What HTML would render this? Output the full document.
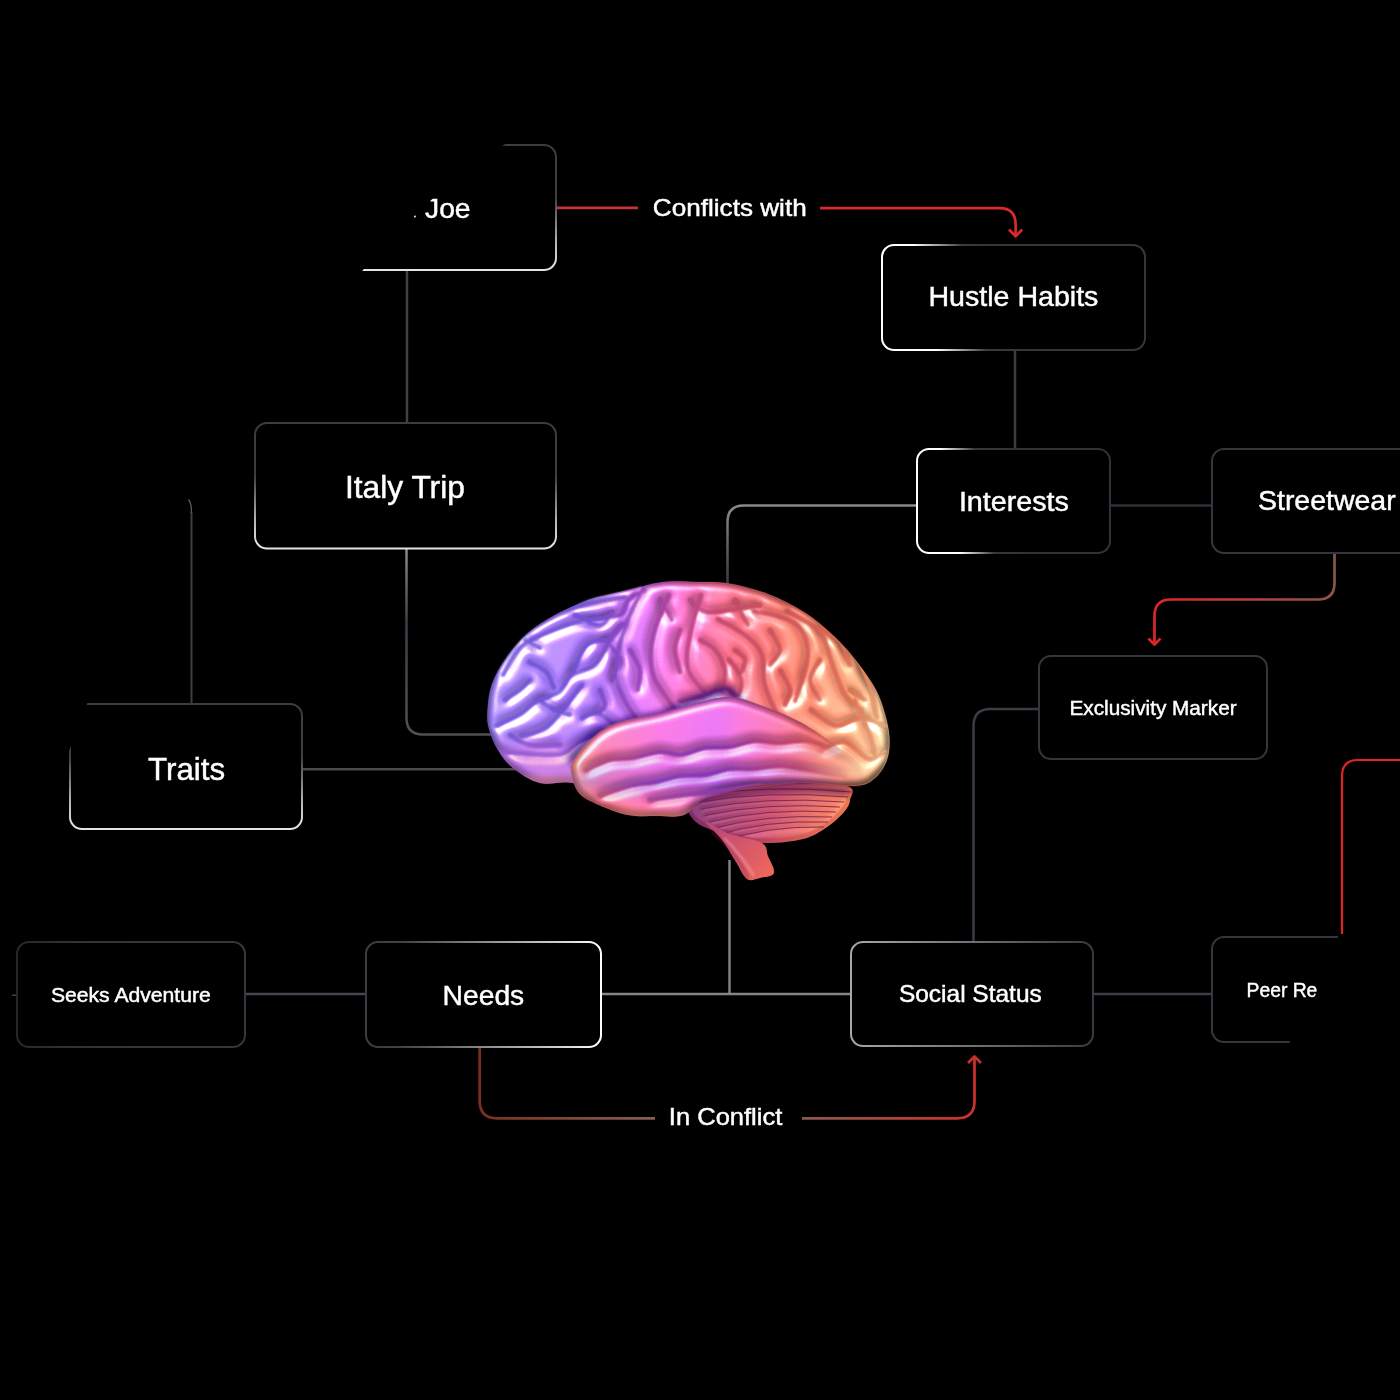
<!DOCTYPE html>
<html><head><meta charset="utf-8">
<style>
html,body{margin:0;padding:0;background:#000;width:1400px;height:1400px;overflow:hidden}
svg{display:block}
text{font-family:"Liberation Sans", sans-serif;fill:#fff;stroke:#fff;stroke-width:0.45px}
svg{will-change:transform}
</style></head>
<body>
<svg width="1400" height="1400" viewBox="0 0 1400 1400">
<defs>
  <linearGradient id="gV" x1="0" y1="0" x2="0" y2="1">
    <stop offset="0" stop-color="#3a3d44"/><stop offset="0.42" stop-color="#3a3d44"/><stop offset="0.78" stop-color="#b4b5b8"/><stop offset="0.95" stop-color="#dedede"/><stop offset="1" stop-color="#e4e4e4"/>
  </linearGradient>
  <linearGradient id="gHH" gradientUnits="userSpaceOnUse" x1="900" y1="300" x2="1005" y2="276">
    <stop offset="0" stop-color="#ffffff"/><stop offset="0.23" stop-color="#ffffff"/><stop offset="0.45" stop-color="#a0a2a6"/><stop offset="0.68" stop-color="#383b42"/><stop offset="1" stop-color="#33363d"/>
  </linearGradient>
  <linearGradient id="gINT" gradientUnits="userSpaceOnUse" x1="917" y1="505" x2="1021" y2="485">
    <stop offset="0" stop-color="#ffffff"/><stop offset="0.31" stop-color="#ffffff"/><stop offset="0.47" stop-color="#a0a2a6"/><stop offset="0.63" stop-color="#35383f"/><stop offset="1" stop-color="#2f3239"/>
  </linearGradient>
  <linearGradient id="gNeeds" x1="0" y1="0" x2="1" y2="0">
    <stop offset="0" stop-color="#3a3d44"/><stop offset="0.15" stop-color="#3e4148"/><stop offset="0.5" stop-color="#8a8b8e"/><stop offset="0.82" stop-color="#d0d0d0"/><stop offset="1" stop-color="#ffffff"/>
  </linearGradient>
  <linearGradient id="gSeeks" x1="0" y1="0" x2="1" y2="0"><stop offset="0" stop-color="#24272c"/><stop offset="0.25" stop-color="#30333a"/><stop offset="1" stop-color="#34373e"/></linearGradient>
  <linearGradient id="gSoc" x1="0" y1="0" x2="1" y2="0">
    <stop offset="0" stop-color="#a6a8ac"/><stop offset="0.5" stop-color="#6e7176"/><stop offset="1" stop-color="#373a41"/>
  </linearGradient>
  <linearGradient id="rJoe" gradientUnits="userSpaceOnUse" x1="556" y1="0" x2="1016" y2="0">
    <stop offset="0" stop-color="#c43434"/><stop offset="1" stop-color="#d82a2a"/>
  </linearGradient>
  <linearGradient id="rStreet" gradientUnits="userSpaceOnUse" x1="1334" y1="560" x2="1160" y2="620">
    <stop offset="0" stop-color="#84584a"/><stop offset="0.5" stop-color="#b8423a"/><stop offset="1" stop-color="#dc2626"/>
  </linearGradient>
  <linearGradient id="rNeeds" gradientUnits="userSpaceOnUse" x1="480" y1="0" x2="975" y2="0">
    <stop offset="0" stop-color="#7a3020"/><stop offset="0.35" stop-color="#856050"/><stop offset="0.66" stop-color="#8a5a4c"/><stop offset="1" stop-color="#d0302c"/>
  </linearGradient>
  <linearGradient id="gInt2" gradientUnits="userSpaceOnUse" x1="0" y1="505" x2="0" y2="585">
    <stop offset="0" stop-color="#8a8a8a"/><stop offset="1" stop-color="#353a40"/>
  </linearGradient>
  <linearGradient id="gItaly2" gradientUnits="userSpaceOnUse" x1="0" y1="548" x2="0" y2="735">
    <stop offset="0" stop-color="#8a8a8a"/><stop offset="0.4" stop-color="#3a4048"/><stop offset="1" stop-color="#505050"/>
  </linearGradient>
  <linearGradient id="bFill" gradientUnits="userSpaceOnUse" x1="490" y1="0" x2="890" y2="0">
    <stop offset="0" stop-color="#a084f6"/><stop offset="0.25" stop-color="#a070f2"/><stop offset="0.38" stop-color="#c468dc"/><stop offset="0.5" stop-color="#ec6ab0"/><stop offset="0.6" stop-color="#f46e88"/><stop offset="0.75" stop-color="#f67c6c"/><stop offset="0.9" stop-color="#f9a078"/><stop offset="1" stop-color="#ffdcaa"/>
  </linearGradient>
  <linearGradient id="bTemp" gradientUnits="userSpaceOnUse" x1="570" y1="0" x2="865" y2="0">
    <stop offset="0" stop-color="#f8a070"/><stop offset="0.1" stop-color="#f07898"/><stop offset="0.3" stop-color="#d868c8"/><stop offset="0.5" stop-color="#c864d8"/><stop offset="0.7" stop-color="#ec6a98"/><stop offset="0.85" stop-color="#f47468"/><stop offset="1" stop-color="#f68a68"/>
  </linearGradient>
  <linearGradient id="bCb" gradientUnits="userSpaceOnUse" x1="700" y1="785" x2="840" y2="840">
    <stop offset="0" stop-color="#7a2c6a"/><stop offset="0.5" stop-color="#b84060"/><stop offset="1" stop-color="#f07a50"/>
  </linearGradient>
  <linearGradient id="bStem" gradientUnits="userSpaceOnUse" x1="715" y1="830" x2="775" y2="875">
    <stop offset="0" stop-color="#c04878"/><stop offset="1" stop-color="#f06a58"/>
  </linearGradient>
  <clipPath id="cJoe"><circle cx="840" cy="666" r="620"/></clipPath>
  <clipPath id="cTraits"><polygon points="92.4,690 320,690 320,850 31,850"/></clipPath>
  <clipPath id="cPeer"><polygon points="1150,920 1346,920 1338,937 1318,990 1290,1042 1282,1060 1150,1060"/></clipPath>
  <linearGradient id="mJoe" gradientUnits="userSpaceOnUse" x1="380" y1="250" x2="470" y2="170">
    <stop offset="0" stop-color="#000" stop-opacity="0"/><stop offset="0.5" stop-color="#000" stop-opacity="0"/><stop offset="0.7" stop-color="#000" stop-opacity="1"/>
  </linearGradient>
  <clipPath id="cCerebrum"><path d="M487.5,711.0 C488.0,703.5 488.8,693.0 492.0,684.0 C495.2,675.0 501.0,665.5 507.0,657.0 C513.0,648.5 520.0,640.0 528.0,633.0 C536.0,626.0 545.0,620.5 555.0,615.0 C565.0,609.5 576.5,604.0 588.0,600.0 C599.5,596.0 611.5,594.0 624.0,591.0 C636.5,588.0 651.0,583.5 663.0,582.0 C675.0,580.5 685.0,581.8 696.0,582.0 C707.0,582.2 717.0,581.5 729.0,583.5 C741.0,585.5 755.5,589.2 768.0,594.0 C780.5,598.8 793.0,605.0 804.0,612.0 C815.0,619.0 825.0,627.5 834.0,636.0 C843.0,644.5 851.0,654.0 858.0,663.0 C865.0,672.0 871.5,681.5 876.0,690.0 C880.5,698.5 882.8,706.0 885.0,714.0 C887.2,722.0 889.2,730.3 889.5,738.0 C889.8,745.7 889.4,753.3 887.0,760.0 C884.6,766.7 880.3,773.7 875.0,778.0 C869.7,782.3 867.5,785.2 855.0,786.0 C842.5,786.8 819.2,782.3 800.0,783.0 C780.8,783.7 758.3,787.2 740.0,790.0 C721.7,792.8 713.3,798.3 690.0,800.0 C666.7,801.7 619.5,802.8 600.0,800.0 C580.5,797.2 583.0,785.8 573.0,783.0 C563.0,780.2 550.0,785.5 540.0,783.0 C530.0,780.5 520.0,773.5 513.0,768.0 C506.0,762.5 502.0,756.5 498.0,750.0 C494.0,743.5 490.8,735.5 489.0,729.0 C487.2,722.5 487.0,718.5 487.5,711.0 Z"/></clipPath>
  <clipPath id="cTemporal"><path d="M596.0,735.0 C603.6,728.8 609.3,725.7 620.0,722.0 C630.7,718.3 646.7,716.3 660.0,713.0 C673.3,709.7 688.3,704.7 700.0,702.0 C711.7,699.3 720.0,696.5 730.0,697.0 C740.0,697.5 748.3,700.8 760.0,705.0 C771.7,709.2 787.5,715.3 800.0,722.0 C812.5,728.7 825.0,737.8 835.0,745.0 C845.0,752.2 855.2,758.2 860.0,765.0 C864.8,771.8 865.8,782.5 863.5,786.0 C861.2,789.5 856.6,786.5 846.5,786.0 C836.4,785.5 818.4,783.0 803.0,783.0 C787.6,783.0 770.2,783.5 754.0,786.0 C737.8,788.5 717.7,793.2 706.0,798.0 C694.3,802.8 692.2,812.0 684.0,815.0 C675.8,818.0 666.3,816.0 657.0,816.0 C647.7,816.0 637.7,816.8 628.0,815.0 C618.3,813.2 607.2,808.7 599.0,805.0 C590.8,801.3 583.7,798.7 579.0,793.0 C574.3,787.3 571.7,776.7 571.0,771.0 C570.3,765.3 570.4,765.0 574.6,759.0 C578.8,753.0 588.4,741.2 596.0,735.0 Z"/></clipPath>
  <clipPath id="cCb"><path d="M684.0,800.0 C689.7,797.0 704.0,792.7 720.0,790.0 C736.0,787.3 759.0,784.7 780.0,784.0 C801.0,783.3 834.3,783.3 846.0,786.0 C857.7,788.7 850.3,795.7 850.0,800.0 C849.7,804.3 847.8,807.5 844.0,812.0 C840.2,816.5 833.8,822.5 827.0,827.0 C820.2,831.5 813.9,836.3 803.0,839.0 C792.1,841.7 773.7,843.5 761.5,843.0 C749.3,842.5 738.2,838.2 730.0,836.0 C721.8,833.8 717.7,832.3 712.0,830.0 C706.3,827.7 700.3,825.7 696.0,822.0 C691.7,818.3 688.0,811.7 686.0,808.0 C684.0,804.3 678.3,803.0 684.0,800.0 Z"/></clipPath>
  <mask id="mSulciC" maskUnits="userSpaceOnUse" x="470" y="560" width="440" height="340"><rect x="470" y="560" width="440" height="340" fill="#fff"/><path d="M503.0,675.0 C506.0,670.3 513.3,654.2 521.0,647.0 C528.7,639.8 538.3,636.5 549.0,632.0 C559.7,627.5 573.2,622.8 585.0,620.0 C596.8,617.2 612.8,618.3 620.0,615.0 C627.2,611.7 624.0,604.2 628.0,600.0 C632.0,595.8 641.3,591.7 644.0,590.0" fill="none" stroke="#000" stroke-width="2.8" stroke-linecap="round"/><path d="M496.0,726.0 C500.2,724.0 514.2,718.2 521.0,714.0 C527.8,709.8 530.7,704.7 537.0,701.0 C543.3,697.3 553.2,696.3 559.0,692.0 C564.8,687.7 566.0,679.5 572.0,675.0 C578.0,670.5 588.5,671.0 595.0,665.0 C601.5,659.0 606.3,645.8 611.0,639.0 C615.7,632.2 621.0,626.5 623.0,624.0" fill="none" stroke="#000" stroke-width="2.8" stroke-linecap="round"/><path d="M521.0,736.0 C525.2,734.7 538.3,733.2 546.0,728.0 C553.7,722.8 561.0,712.2 567.0,705.0 C573.0,697.8 579.5,688.3 582.0,685.0" fill="none" stroke="#000" stroke-width="2.8" stroke-linecap="round"/><path d="M496.0,751.0 C501.5,751.5 518.0,753.5 529.0,754.0 C540.0,754.5 553.7,756.0 562.0,754.0 C570.3,752.0 571.8,745.8 579.0,742.0 C586.2,738.2 600.7,732.8 605.0,731.0" fill="none" stroke="#000" stroke-width="2.8" stroke-linecap="round"/><path d="M644.0,586.0 C641.3,591.5 632.3,608.0 628.0,619.0 C623.7,630.0 620.0,642.3 618.0,652.0 C616.0,661.7 614.8,668.8 616.0,677.0 C617.2,685.2 621.7,694.2 625.0,701.0 C628.3,707.8 634.2,715.2 636.0,718.0" fill="none" stroke="#000" stroke-width="2.8" stroke-linecap="round"/><path d="M669.0,595.0 C666.8,600.3 659.0,617.5 656.0,627.0 C653.0,636.5 651.3,643.7 651.0,652.0 C650.7,660.3 651.0,668.8 654.0,677.0 C657.0,685.2 665.2,695.2 669.0,701.0 C672.8,706.8 675.7,710.2 677.0,712.0" fill="none" stroke="#000" stroke-width="2.8" stroke-linecap="round"/><path d="M572.0,675.0 C574.5,670.0 580.5,651.0 587.0,645.0 C593.5,639.0 607.0,640.0 611.0,639.0" fill="none" stroke="#000" stroke-width="2.8" stroke-linecap="round"/><path d="M529.0,662.0 C531.8,663.7 541.8,667.7 546.0,672.0 C550.2,676.3 552.7,685.3 554.0,688.0" fill="none" stroke="#000" stroke-width="2.8" stroke-linecap="round"/><path d="M582.0,718.0 C584.7,717.2 592.5,711.7 598.0,713.0 C603.5,714.3 612.2,723.8 615.0,726.0" fill="none" stroke="#000" stroke-width="2.8" stroke-linecap="round"/><path d="M701.0,595.0 C699.2,601.8 692.2,623.7 690.0,636.0 C687.8,648.3 685.5,659.5 688.0,669.0 C690.5,678.5 702.2,689.0 705.0,693.0" fill="none" stroke="#000" stroke-width="2.8" stroke-linecap="round"/><path d="M718.0,619.0 C722.7,621.8 738.7,630.0 746.0,636.0 C753.3,642.0 758.8,646.8 762.0,655.0 C765.2,663.2 762.2,674.5 765.0,685.0 C767.8,695.5 774.0,708.5 779.0,718.0 C784.0,727.5 792.3,738.0 795.0,742.0" fill="none" stroke="#000" stroke-width="2.8" stroke-linecap="round"/><path d="M754.0,611.0 C760.8,613.0 786.0,616.7 795.0,623.0 C804.0,629.3 806.7,640.0 808.0,649.0 C809.3,658.0 805.2,668.3 803.0,677.0 C800.8,685.7 796.3,697.0 795.0,701.0" fill="none" stroke="#000" stroke-width="2.8" stroke-linecap="round"/><path d="M787.0,611.0 C792.5,614.5 812.7,623.8 820.0,632.0 C827.3,640.2 827.0,649.8 831.0,660.0 C835.0,670.2 839.0,684.7 844.0,693.0 C849.0,701.3 858.2,707.2 861.0,710.0" fill="none" stroke="#000" stroke-width="2.8" stroke-linecap="round"/><path d="M820.0,627.0 C825.3,631.2 843.8,642.3 852.0,652.0 C860.2,661.7 864.8,674.0 869.0,685.0 C873.2,696.0 875.7,712.5 877.0,718.0" fill="none" stroke="#000" stroke-width="2.8" stroke-linecap="round"/><path d="M811.0,710.0 C815.2,712.7 827.7,724.7 836.0,726.0 C844.3,727.3 852.8,718.0 861.0,718.0 C869.2,718.0 881.0,724.7 885.0,726.0" fill="none" stroke="#000" stroke-width="2.8" stroke-linecap="round"/><path d="M820.0,751.0 C824.0,749.5 835.8,740.7 844.0,742.0 C852.2,743.3 862.2,757.5 869.0,759.0 C875.8,760.5 882.3,752.3 885.0,751.0" fill="none" stroke="#000" stroke-width="2.8" stroke-linecap="round"/><path d="M680.0,701.0 C684.2,700.0 697.7,697.2 705.0,695.0 C712.3,692.8 718.5,688.0 724.0,688.0 C729.5,688.0 735.2,696.8 738.0,695.0 C740.8,693.2 742.5,682.8 741.0,677.0 C739.5,671.2 731.0,662.8 729.0,660.0" fill="none" stroke="#000" stroke-width="2.8" stroke-linecap="round"/><path d="M560.0,610.0 C565.0,608.8 579.2,605.2 590.0,603.0 C600.8,600.8 619.2,598.0 625.0,597.0" fill="none" stroke="#000" stroke-width="2.8" stroke-linecap="round"/><path d="M505.0,700.0 C507.5,698.3 515.8,693.3 520.0,690.0 C524.2,686.7 528.3,681.7 530.0,680.0" fill="none" stroke="#000" stroke-width="2.8" stroke-linecap="round"/><path d="M600.0,690.0 C600.8,692.5 605.3,701.2 605.0,705.0 C604.7,708.8 599.2,711.7 598.0,713.0" fill="none" stroke="#000" stroke-width="2.8" stroke-linecap="round"/><path d="M690.0,600.0 C692.5,602.0 698.3,610.3 705.0,612.0 C711.7,613.7 720.8,611.2 730.0,610.0 C739.2,608.8 755.0,605.8 760.0,605.0" fill="none" stroke="#000" stroke-width="2.8" stroke-linecap="round"/><path d="M735.0,650.0 C736.7,651.7 744.2,655.8 745.0,660.0 C745.8,664.2 740.8,672.5 740.0,675.0" fill="none" stroke="#000" stroke-width="2.8" stroke-linecap="round"/><path d="M850.0,690.0 C852.5,691.7 862.5,698.3 865.0,700.0" fill="none" stroke="#000" stroke-width="2.8" stroke-linecap="round"/><path d="M780.0,670.0 C781.7,673.3 789.2,684.2 790.0,690.0 C790.8,695.8 785.8,702.5 785.0,705.0" fill="none" stroke="#000" stroke-width="2.8" stroke-linecap="round"/><path d="M700.0,640.0 C702.5,641.7 710.8,645.0 715.0,650.0 C719.2,655.0 723.8,663.3 725.0,670.0 C726.2,676.7 722.5,686.7 722.0,690.0" fill="none" stroke="#000" stroke-width="2.8" stroke-linecap="round"/><path d="M735.0,600.0 C737.2,604.2 745.8,620.8 748.0,625.0" fill="none" stroke="#000" stroke-width="2.8" stroke-linecap="round"/><path d="M770.0,630.0 C771.7,633.3 780.0,644.2 780.0,650.0 C780.0,655.8 771.7,662.5 770.0,665.0" fill="none" stroke="#000" stroke-width="2.8" stroke-linecap="round"/><path d="M820.0,660.0 C818.3,663.3 810.0,673.3 810.0,680.0 C810.0,686.7 818.3,696.7 820.0,700.0" fill="none" stroke="#000" stroke-width="2.8" stroke-linecap="round"/><path d="M840.0,640.0 C841.7,644.2 848.3,660.8 850.0,665.0" fill="none" stroke="#000" stroke-width="2.8" stroke-linecap="round"/><path d="M855.0,700.0 C857.5,705.8 866.7,725.8 870.0,735.0 C873.3,744.2 874.2,751.7 875.0,755.0" fill="none" stroke="#000" stroke-width="2.8" stroke-linecap="round"/><path d="M808.0,735.0 C810.8,737.2 822.2,745.8 825.0,748.0" fill="none" stroke="#000" stroke-width="2.8" stroke-linecap="round"/><path d="M605.0,640.0 C607.5,643.3 618.8,653.3 620.0,660.0 C621.2,666.7 613.3,676.7 612.0,680.0" fill="none" stroke="#000" stroke-width="2.8" stroke-linecap="round"/><path d="M540.0,700.0 C542.5,701.7 550.0,707.5 555.0,710.0 C560.0,712.5 567.5,714.2 570.0,715.0" fill="none" stroke="#000" stroke-width="2.8" stroke-linecap="round"/><path d="M510.0,735.0 C513.3,736.7 521.7,743.3 530.0,745.0 C538.3,746.7 555.0,745.0 560.0,745.0" fill="none" stroke="#000" stroke-width="2.8" stroke-linecap="round"/><path d="M525.0,640.0 C527.5,641.3 537.5,646.7 540.0,648.0" fill="none" stroke="#000" stroke-width="2.8" stroke-linecap="round"/><path d="M575.0,615.0 C579.2,616.7 593.8,625.5 600.0,625.0 C606.2,624.5 610.0,614.2 612.0,612.0" fill="none" stroke="#000" stroke-width="2.8" stroke-linecap="round"/><path d="M660.0,600.0 C662.0,603.3 670.0,616.7 672.0,620.0" fill="none" stroke="#000" stroke-width="2.8" stroke-linecap="round"/><path d="M680.0,630.0 C679.2,633.3 675.0,643.0 675.0,650.0 C675.0,657.0 679.2,668.3 680.0,672.0" fill="none" stroke="#000" stroke-width="2.8" stroke-linecap="round"/><path d="M630.0,650.0 C631.7,653.3 638.7,663.3 640.0,670.0 C641.3,676.7 638.3,686.7 638.0,690.0" fill="none" stroke="#000" stroke-width="2.8" stroke-linecap="round"/></mask>
  <mask id="mSulciT" maskUnits="userSpaceOnUse" x="470" y="560" width="440" height="340"><rect x="470" y="560" width="440" height="340" fill="#fff"/><path d="M586.0,770.0 C590.0,768.3 602.2,762.0 610.0,760.0 C617.8,758.0 624.7,759.3 633.0,758.0 C641.3,756.7 652.0,752.5 660.0,752.0 C668.0,751.5 673.5,755.7 681.0,755.0 C688.5,754.3 696.8,749.3 705.0,748.0 C713.2,746.7 721.7,748.2 730.0,747.0 C738.3,745.8 746.8,741.7 755.0,741.0 C763.2,740.3 770.7,743.0 779.0,743.0 C787.3,743.0 797.0,740.3 805.0,741.0 C813.0,741.7 817.5,743.5 827.0,747.0 C836.5,750.5 856.2,759.5 862.0,762.0" fill="none" stroke="#000" stroke-width="3.5" stroke-linecap="round"/><path d="M600.0,796.0 C605.0,794.3 620.5,788.3 630.0,786.0 C639.5,783.7 648.7,783.7 657.0,782.0 C665.3,780.3 671.8,777.2 680.0,776.0 C688.2,774.8 697.7,776.2 706.0,775.0 C714.3,773.8 722.0,770.0 730.0,769.0 C738.0,768.0 745.7,769.5 754.0,769.0 C762.3,768.5 771.8,766.0 780.0,766.0 C788.2,766.0 792.2,767.3 803.0,769.0 C813.8,770.7 838.0,774.8 845.0,776.0" fill="none" stroke="#000" stroke-width="3.5" stroke-linecap="round"/><path d="M650.0,800.0 C658.3,798.8 681.7,795.5 700.0,793.0 C718.3,790.5 750.0,786.3 760.0,785.0" fill="none" stroke="#000" stroke-width="3.5" stroke-linecap="round"/></mask>
  <mask id="mCb" maskUnits="userSpaceOnUse" x="470" y="560" width="440" height="340"><rect x="470" y="560" width="440" height="340" fill="#fff"/><path d="M693,796.0 Q765,784 852,792" fill="none" stroke="#000" stroke-width="0.8"/><path d="M697,802.5 Q765,790 848,797" fill="none" stroke="#000" stroke-width="0.8"/><path d="M701,809.0 Q765,796 844,802" fill="none" stroke="#000" stroke-width="0.8"/><path d="M705,815.5 Q765,802 840,807" fill="none" stroke="#000" stroke-width="0.8"/><path d="M709,822.0 Q765,808 836,812" fill="none" stroke="#000" stroke-width="0.8"/><path d="M713,828.5 Q765,814 832,817" fill="none" stroke="#000" stroke-width="0.8"/><path d="M717,835.0 Q765,820 828,822" fill="none" stroke="#000" stroke-width="0.8"/><path d="M721,841.5 Q765,826 824,827" fill="none" stroke="#000" stroke-width="0.8"/></mask>
  <filter id="glossS" filterUnits="userSpaceOnUse" x="470" y="560" width="440" height="340" color-interpolation-filters="sRGB">
    <feGaussianBlur in="SourceAlpha" stdDeviation="2" result="h"/>
    <feSpecularLighting in="h" surfaceScale="4" specularConstant="0.35" specularExponent="12" lighting-color="#ffffff" result="spec">
      <feDistantLight azimuth="235" elevation="50"/>
    </feSpecularLighting>
    <feComposite in="spec" in2="SourceGraphic" operator="in" result="s2"/>
    <feComposite in="SourceGraphic" in2="s2" operator="arithmetic" k1="0" k2="1" k3="0.5" k4="0"/>
  </filter>
  <filter id="blur1" x="-20%" y="-20%" width="140%" height="140%"><feGaussianBlur stdDeviation="1.2"/></filter>
  <filter id="blur2s" x="-20%" y="-20%" width="140%" height="140%"><feGaussianBlur stdDeviation="2.2"/></filter>
  <filter id="blur2" x="-20%" y="-50%" width="140%" height="200%"><feGaussianBlur stdDeviation="3"/></filter>
  <filter id="blur4" x="-50%" y="-50%" width="200%" height="200%"><feGaussianBlur stdDeviation="8"/></filter>
  <filter id="gloss" filterUnits="userSpaceOnUse" x="470" y="560" width="440" height="340" color-interpolation-filters="sRGB">
    <feGaussianBlur in="SourceGraphic" stdDeviation="0.8" result="col"/>
    <feGaussianBlur in="SourceAlpha" stdDeviation="4.5" result="h"/>
    <feSpecularLighting in="h" surfaceScale="8" specularConstant="1.3" specularExponent="20" lighting-color="#ffffff" result="spec">
      <feDistantLight azimuth="235" elevation="35"/>
    </feSpecularLighting>
    <feComposite in="spec" in2="col" operator="in" result="s2"/>
    <feDiffuseLighting in="h" surfaceScale="8" diffuseConstant="1" lighting-color="#ffffff" result="diff">
      <feDistantLight azimuth="235" elevation="78"/>
    </feDiffuseLighting>
    <feComposite in="col" in2="diff" operator="arithmetic" k1="1.14" k2="0" k3="0" k4="0" result="lit"/>
    <feComposite in="lit" in2="col" operator="in" result="lit2"/>
    <feComposite in="lit2" in2="s2" operator="arithmetic" k1="0" k2="1" k3="0.5" k4="0"/>
  </filter>
  <linearGradient id="mTempG" gradientUnits="userSpaceOnUse" x1="800" y1="0" x2="866" y2="0"><stop offset="0" stop-color="#fff"/><stop offset="1" stop-color="#fff" stop-opacity="0"/></linearGradient>
  <mask id="mTemp" maskUnits="userSpaceOnUse" x="500" y="650" width="420" height="200"><rect x="500" y="650" width="420" height="200" fill="url(#mTempG)"/></mask>
  <linearGradient id="bDark" gradientUnits="userSpaceOnUse" x1="490" y1="0" x2="890" y2="0">
    <stop offset="0" stop-color="#7458dc"/><stop offset="0.25" stop-color="#7050d8"/><stop offset="0.38" stop-color="#9a40b8"/><stop offset="0.5" stop-color="#c04488"/><stop offset="0.6" stop-color="#c84868"/><stop offset="0.75" stop-color="#d05458"/><stop offset="0.9" stop-color="#e07050"/><stop offset="1" stop-color="#f0b080"/>
  </linearGradient>
  <linearGradient id="bTempDark" gradientUnits="userSpaceOnUse" x1="570" y1="0" x2="865" y2="0">
    <stop offset="0" stop-color="#d07050"/><stop offset="0.1" stop-color="#b84870"/><stop offset="0.3" stop-color="#9038a8"/><stop offset="0.5" stop-color="#8030b0"/><stop offset="0.7" stop-color="#b83c70"/><stop offset="0.85" stop-color="#c84850"/><stop offset="1" stop-color="#d05a48"/>
  </linearGradient>
  <linearGradient id="bShade" gradientUnits="userSpaceOnUse" x1="0" y1="580" x2="0" y2="790"><stop offset="0" stop-color="#fff" stop-opacity="0.08"/><stop offset="0.6" stop-color="#000" stop-opacity="0"/><stop offset="1" stop-color="#ff6080" stop-opacity="0.25"/></linearGradient>
  <linearGradient id="bTempShade" gradientUnits="userSpaceOnUse" x1="0" y1="697" x2="0" y2="816"><stop offset="0" stop-color="#ff60a0" stop-opacity="0.1"/><stop offset="0.45" stop-color="#d050b0" stop-opacity="0.12"/><stop offset="0.72" stop-color="#7040e0" stop-opacity="0.3"/><stop offset="0.9" stop-color="#ff7050" stop-opacity="0.25"/><stop offset="1" stop-color="#ff9a60" stop-opacity="0.5"/></linearGradient>
</defs>
<rect width="1400" height="1400" fill="#000"/>

<!-- gray connectors -->
<g fill="none" stroke-width="2.5">
  <path d="M407,270 V423" stroke="#3e4148"/>
  <path d="M1015,350 V449" stroke="#3a3d44"/>
  <path d="M1110,505.5 H1212" stroke="#2e3139"/>
  <path d="M917,505.5 H744 Q727.5,505.5 727.5,522 V585" stroke="url(#gInt2)"/>
  <path d="M406.5,548 V718 Q406.5,734.5 423,734.5 H500" stroke="url(#gItaly2)"/>
  <path d="M302,769.3 H520" stroke="#4a4a4a"/>
  <path d="M191.5,704 V512" stroke="#3c3f46" stroke-width="2"/>
  <path d="M191.5,513 Q191.5,503 188.5,499.5" stroke="#5a5d64" stroke-width="1.3"/>
  <path d="M12,995.2 H17" stroke="#505358" stroke-width="1.2"/>
  <path d="M729.5,860 V994" stroke="#808080"/>
  <path d="M245,994 H366" stroke="#45484e"/>
  <path d="M601,994 H851" stroke="#858585"/>
  <path d="M1093,994 H1212" stroke="#3a3d44"/>
  <path d="M973.5,942 V726 Q973.5,709 990.5,709 H1039" stroke="#3a3d44"/>
</g>

<!-- red connectors -->
<g fill="none" stroke-width="2.7" stroke-linecap="butt" stroke-linejoin="round">
  <path d="M556,207.8 H638" stroke="#c43434"/>
  <path d="M820,208.2 H999.5 Q1015.6,208.2 1015.6,224.5 V236" stroke="#d82a2a"/>
  <path d="M1009,229.5 L1015.6,236.3 L1022.2,229.5" stroke="#d82a2a"/>
  <path d="M1334.5,553 V583 Q1334.5,599.5 1318,599.5 H1171 Q1154.5,599.5 1154.5,616 V644" stroke="url(#rStreet)"/>
  <path d="M1148.5,638.5 L1154.5,644.5 L1160.5,638.5" stroke="#dc2626"/>
  <path d="M479.7,1047 V1101 Q479.7,1118.3 497,1118.3 H655" stroke="url(#rNeeds)"/>
  <path d="M802,1118.3 H957 Q974.5,1118.3 974.5,1101 V1057" stroke="url(#rNeeds)"/>
  <path d="M968,1063 L974.5,1056.5 L981,1063" stroke="#c83030"/>
  <path d="M1342,934 V776 Q1342,760 1358,760 H1400" stroke="#e02424" stroke-width="2.2"/>
</g>

<!-- boxes -->
<g>
  <g clip-path="url(#cJoe)">
    <rect x="255" y="145" width="301" height="125" rx="12" fill="#000" stroke="url(#gV)" stroke-width="2"/>
    <rect x="414" y="215.6" width="1.8" height="1.8" fill="#ddd"/>
    <text x="425.00" y="218" font-size="27" textLength="45.57" lengthAdjust="spacingAndGlyphs">Joe</text>
  </g>
  <rect x="882" y="245" width="263" height="105" rx="12" fill="#000" stroke="url(#gHH)" stroke-width="2"/>
  <rect x="255" y="423" width="301" height="125.5" rx="12" fill="#000" stroke="url(#gV)" stroke-width="2"/>
  <rect x="917" y="449" width="193" height="104" rx="12" fill="#000" stroke="url(#gINT)" stroke-width="2"/>
  <rect x="1212" y="449" width="260" height="104" rx="12" fill="#000" stroke="#33363d" stroke-width="2"/>
  <rect x="1039" y="656" width="228" height="103" rx="12" fill="#000" stroke="#33363d" stroke-width="2"/>
  <g clip-path="url(#cTraits)"><rect x="70" y="704" width="232" height="125" rx="12" fill="#000" stroke="url(#gV)" stroke-width="2"/></g>
  <rect x="17" y="942" width="228" height="105" rx="12" fill="#000" stroke="url(#gSeeks)" stroke-width="2"/>
  <rect x="366" y="942" width="235" height="105" rx="12" fill="#000" stroke="url(#gNeeds)" stroke-width="2"/>
  <rect x="851" y="942" width="242" height="104" rx="12" fill="#000" stroke="url(#gSoc)" stroke-width="2"/>
  <g clip-path="url(#cPeer)"><rect x="1212" y="937" width="240" height="105" rx="12" fill="#000" stroke="#33363d" stroke-width="2"/>
    <text x="1246.59" y="997.3" font-size="20.7" textLength="70.78" lengthAdjust="spacingAndGlyphs">Peer Re</text></g>
</g>

<!-- texts -->
<g>
  <text x="652.87" y="216.4" font-size="23.2" textLength="153.80" lengthAdjust="spacingAndGlyphs">Conflicts with</text>
  <text x="928.45" y="306" font-size="28" textLength="169.96" lengthAdjust="spacingAndGlyphs">Hustle Habits</text>
  <text x="344.96" y="498.3" font-size="31.3" textLength="119.91" lengthAdjust="spacingAndGlyphs">Italy Trip</text>
  <text x="958.90" y="510.8" font-size="27.5" textLength="109.99" lengthAdjust="spacingAndGlyphs">Interests</text>
  <text x="1258.00" y="510" font-size="28.5" textLength="137.62" lengthAdjust="spacingAndGlyphs">Streetwear</text>
  <text x="1069.50" y="715.4" font-size="20.7" textLength="167.07" lengthAdjust="spacingAndGlyphs">Exclusivity Marker</text>
  <text x="148.00" y="779.6" font-size="31.3" textLength="77.09" lengthAdjust="spacingAndGlyphs">Traits</text>
  <text x="50.93" y="1002" font-size="19.8" textLength="159.88" lengthAdjust="spacingAndGlyphs">Seeks Adventure</text>
  <text x="442.51" y="1004.9" font-size="28.5" textLength="81.76" lengthAdjust="spacingAndGlyphs">Needs</text>
  <text x="898.96" y="1002.4" font-size="23.6" textLength="142.78" lengthAdjust="spacingAndGlyphs">Social Status</text>
  <text x="668.84" y="1124.5" font-size="23.6" textLength="113.46" lengthAdjust="spacingAndGlyphs">In Conflict</text>
</g>

<!-- brain -->
<g id="brain">
<path d="M684.0,800.0 C689.7,797.0 704.0,792.7 720.0,790.0 C736.0,787.3 759.0,784.7 780.0,784.0 C801.0,783.3 834.3,783.3 846.0,786.0 C857.7,788.7 850.3,795.7 850.0,800.0 C849.7,804.3 847.8,807.5 844.0,812.0 C840.2,816.5 833.8,822.5 827.0,827.0 C820.2,831.5 813.9,836.3 803.0,839.0 C792.1,841.7 773.7,843.5 761.5,843.0 C749.3,842.5 738.2,838.2 730.0,836.0 C721.8,833.8 717.7,832.3 712.0,830.0 C706.3,827.7 700.3,825.7 696.0,822.0 C691.7,818.3 688.0,811.7 686.0,808.0 C684.0,804.3 678.3,803.0 684.0,800.0 Z" fill="#702050"/>
<g filter="url(#glossS)"><g mask="url(#mCb)">
<path d="M684.0,800.0 C689.7,797.0 704.0,792.7 720.0,790.0 C736.0,787.3 759.0,784.7 780.0,784.0 C801.0,783.3 834.3,783.3 846.0,786.0 C857.7,788.7 850.3,795.7 850.0,800.0 C849.7,804.3 847.8,807.5 844.0,812.0 C840.2,816.5 833.8,822.5 827.0,827.0 C820.2,831.5 813.9,836.3 803.0,839.0 C792.1,841.7 773.7,843.5 761.5,843.0 C749.3,842.5 738.2,838.2 730.0,836.0 C721.8,833.8 717.7,832.3 712.0,830.0 C706.3,827.7 700.3,825.7 696.0,822.0 C691.7,818.3 688.0,811.7 686.0,808.0 C684.0,804.3 678.3,803.0 684.0,800.0 Z" fill="url(#bCb)"/>
</g></g>
<g clip-path="url(#cCb)">
<path d="M690,800 Q770,780 850,792" fill="none" stroke="#3a0a40" stroke-opacity="0.6" stroke-width="8" filter="url(#blur2)"/>
</g>
<path d="M706.0,822.0 C707.3,821.0 720.7,830.5 730.0,834.0 C739.3,837.5 755.7,839.3 762.0,843.0 C768.3,846.7 766.0,851.0 768.0,856.0 C770.0,861.0 775.3,869.3 774.0,873.0 C772.7,876.7 764.5,877.0 760.0,878.0 C755.5,879.0 751.0,881.7 747.0,879.0 C743.0,876.3 740.2,868.5 736.0,862.0 C731.8,855.5 727.0,846.7 722.0,840.0 C717.0,833.3 704.7,823.0 706.0,822.0 Z" fill="url(#bStem)"/>
<path d="M724,838 Q742,856 754,876" fill="none" stroke="#ffc0c0" stroke-opacity="0.4" stroke-width="2.5" filter="url(#blur1)"/>
<path d="M712,832 Q735,850 748,878" fill="none" stroke="#802050" stroke-opacity="0.35" stroke-width="3" filter="url(#blur1)"/>
<path d="M487.5,711.0 C488.0,703.5 488.8,693.0 492.0,684.0 C495.2,675.0 501.0,665.5 507.0,657.0 C513.0,648.5 520.0,640.0 528.0,633.0 C536.0,626.0 545.0,620.5 555.0,615.0 C565.0,609.5 576.5,604.0 588.0,600.0 C599.5,596.0 611.5,594.0 624.0,591.0 C636.5,588.0 651.0,583.5 663.0,582.0 C675.0,580.5 685.0,581.8 696.0,582.0 C707.0,582.2 717.0,581.5 729.0,583.5 C741.0,585.5 755.5,589.2 768.0,594.0 C780.5,598.8 793.0,605.0 804.0,612.0 C815.0,619.0 825.0,627.5 834.0,636.0 C843.0,644.5 851.0,654.0 858.0,663.0 C865.0,672.0 871.5,681.5 876.0,690.0 C880.5,698.5 882.8,706.0 885.0,714.0 C887.2,722.0 889.2,730.3 889.5,738.0 C889.8,745.7 889.4,753.3 887.0,760.0 C884.6,766.7 880.3,773.7 875.0,778.0 C869.7,782.3 867.5,785.2 855.0,786.0 C842.5,786.8 819.2,782.3 800.0,783.0 C780.8,783.7 758.3,787.2 740.0,790.0 C721.7,792.8 713.3,798.3 690.0,800.0 C666.7,801.7 619.5,802.8 600.0,800.0 C580.5,797.2 583.0,785.8 573.0,783.0 C563.0,780.2 550.0,785.5 540.0,783.0 C530.0,780.5 520.0,773.5 513.0,768.0 C506.0,762.5 502.0,756.5 498.0,750.0 C494.0,743.5 490.8,735.5 489.0,729.0 C487.2,722.5 487.0,718.5 487.5,711.0 Z" fill="url(#bDark)"/>
<g filter="url(#gloss)"><g mask="url(#mSulciC)">
<path d="M487.5,711.0 C488.0,703.5 488.8,693.0 492.0,684.0 C495.2,675.0 501.0,665.5 507.0,657.0 C513.0,648.5 520.0,640.0 528.0,633.0 C536.0,626.0 545.0,620.5 555.0,615.0 C565.0,609.5 576.5,604.0 588.0,600.0 C599.5,596.0 611.5,594.0 624.0,591.0 C636.5,588.0 651.0,583.5 663.0,582.0 C675.0,580.5 685.0,581.8 696.0,582.0 C707.0,582.2 717.0,581.5 729.0,583.5 C741.0,585.5 755.5,589.2 768.0,594.0 C780.5,598.8 793.0,605.0 804.0,612.0 C815.0,619.0 825.0,627.5 834.0,636.0 C843.0,644.5 851.0,654.0 858.0,663.0 C865.0,672.0 871.5,681.5 876.0,690.0 C880.5,698.5 882.8,706.0 885.0,714.0 C887.2,722.0 889.2,730.3 889.5,738.0 C889.8,745.7 889.4,753.3 887.0,760.0 C884.6,766.7 880.3,773.7 875.0,778.0 C869.7,782.3 867.5,785.2 855.0,786.0 C842.5,786.8 819.2,782.3 800.0,783.0 C780.8,783.7 758.3,787.2 740.0,790.0 C721.7,792.8 713.3,798.3 690.0,800.0 C666.7,801.7 619.5,802.8 600.0,800.0 C580.5,797.2 583.0,785.8 573.0,783.0 C563.0,780.2 550.0,785.5 540.0,783.0 C530.0,780.5 520.0,773.5 513.0,768.0 C506.0,762.5 502.0,756.5 498.0,750.0 C494.0,743.5 490.8,735.5 489.0,729.0 C487.2,722.5 487.0,718.5 487.5,711.0 Z" fill="url(#bFill)"/>
</g></g>
<g clip-path="url(#cCerebrum)">
<ellipse cx="540" cy="770" rx="70" ry="30" fill="#e060c0" fill-opacity="0.35" filter="url(#blur4)"/>
<ellipse cx="545" cy="785" rx="45" ry="10" fill="#ff9a80" fill-opacity="0.4" filter="url(#blur2)"/>
<path d="M572.0,759.0 C575.8,754.8 585.7,740.3 595.0,734.0 C604.3,727.7 617.0,724.2 628.0,721.0 C639.0,717.8 649.0,718.8 661.0,715.0 C673.0,711.2 689.2,702.2 700.0,698.0 C710.8,693.8 719.7,689.7 726.0,690.0 C732.3,690.3 736.0,698.3 738.0,700.0" fill="none" stroke="#2a0870" stroke-opacity="0.75" stroke-width="9" stroke-linecap="round" filter="url(#blur2)"/>
</g>
<g mask="url(#mTemp)">
<path d="M596.0,735.0 C603.6,728.8 609.3,725.7 620.0,722.0 C630.7,718.3 646.7,716.3 660.0,713.0 C673.3,709.7 688.3,704.7 700.0,702.0 C711.7,699.3 720.0,696.5 730.0,697.0 C740.0,697.5 748.3,700.8 760.0,705.0 C771.7,709.2 787.5,715.3 800.0,722.0 C812.5,728.7 825.0,737.8 835.0,745.0 C845.0,752.2 855.2,758.2 860.0,765.0 C864.8,771.8 865.8,782.5 863.5,786.0 C861.2,789.5 856.6,786.5 846.5,786.0 C836.4,785.5 818.4,783.0 803.0,783.0 C787.6,783.0 770.2,783.5 754.0,786.0 C737.8,788.5 717.7,793.2 706.0,798.0 C694.3,802.8 692.2,812.0 684.0,815.0 C675.8,818.0 666.3,816.0 657.0,816.0 C647.7,816.0 637.7,816.8 628.0,815.0 C618.3,813.2 607.2,808.7 599.0,805.0 C590.8,801.3 583.7,798.7 579.0,793.0 C574.3,787.3 571.7,776.7 571.0,771.0 C570.3,765.3 570.4,765.0 574.6,759.0 C578.8,753.0 588.4,741.2 596.0,735.0 Z" fill="url(#bTempDark)"/>
<g filter="url(#gloss)"><g mask="url(#mSulciT)">
<path d="M596.0,735.0 C603.6,728.8 609.3,725.7 620.0,722.0 C630.7,718.3 646.7,716.3 660.0,713.0 C673.3,709.7 688.3,704.7 700.0,702.0 C711.7,699.3 720.0,696.5 730.0,697.0 C740.0,697.5 748.3,700.8 760.0,705.0 C771.7,709.2 787.5,715.3 800.0,722.0 C812.5,728.7 825.0,737.8 835.0,745.0 C845.0,752.2 855.2,758.2 860.0,765.0 C864.8,771.8 865.8,782.5 863.5,786.0 C861.2,789.5 856.6,786.5 846.5,786.0 C836.4,785.5 818.4,783.0 803.0,783.0 C787.6,783.0 770.2,783.5 754.0,786.0 C737.8,788.5 717.7,793.2 706.0,798.0 C694.3,802.8 692.2,812.0 684.0,815.0 C675.8,818.0 666.3,816.0 657.0,816.0 C647.7,816.0 637.7,816.8 628.0,815.0 C618.3,813.2 607.2,808.7 599.0,805.0 C590.8,801.3 583.7,798.7 579.0,793.0 C574.3,787.3 571.7,776.7 571.0,771.0 C570.3,765.3 570.4,765.0 574.6,759.0 C578.8,753.0 588.4,741.2 596.0,735.0 Z" fill="url(#bTemp)"/>
</g></g>
<path d="M596.0,735.0 C603.6,728.8 609.3,725.7 620.0,722.0 C630.7,718.3 646.7,716.3 660.0,713.0 C673.3,709.7 688.3,704.7 700.0,702.0 C711.7,699.3 720.0,696.5 730.0,697.0 C740.0,697.5 748.3,700.8 760.0,705.0 C771.7,709.2 787.5,715.3 800.0,722.0 C812.5,728.7 825.0,737.8 835.0,745.0 C845.0,752.2 855.2,758.2 860.0,765.0 C864.8,771.8 865.8,782.5 863.5,786.0 C861.2,789.5 856.6,786.5 846.5,786.0 C836.4,785.5 818.4,783.0 803.0,783.0 C787.6,783.0 770.2,783.5 754.0,786.0 C737.8,788.5 717.7,793.2 706.0,798.0 C694.3,802.8 692.2,812.0 684.0,815.0 C675.8,818.0 666.3,816.0 657.0,816.0 C647.7,816.0 637.7,816.8 628.0,815.0 C618.3,813.2 607.2,808.7 599.0,805.0 C590.8,801.3 583.7,798.7 579.0,793.0 C574.3,787.3 571.7,776.7 571.0,771.0 C570.3,765.3 570.4,765.0 574.6,759.0 C578.8,753.0 588.4,741.2 596.0,735.0 Z" fill="url(#bTempShade)"/>
</g>
</g>
</svg>
</body></html>
